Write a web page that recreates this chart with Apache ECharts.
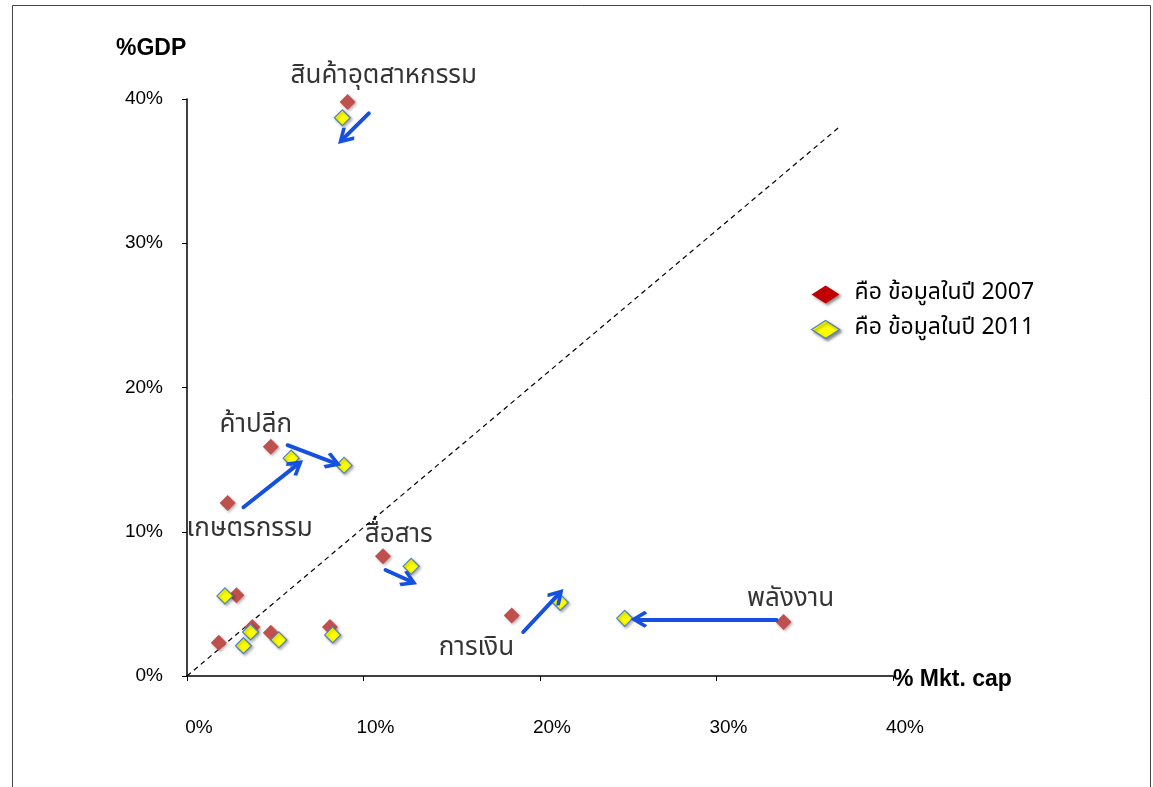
<!DOCTYPE html>
<html>
<head>
<meta charset="utf-8">
<script src="https://cdn.jsdelivr.net/npm/echarts@6/dist/echarts.min.js"></script>
<style>
html,body{margin:0;padding:0;background:#fff;}
#chart{width:1153px;height:787px;}
</style>
</head>
<body>
<div id="chart"></div>
<script>
// ---- data (percent) ----
const xTicks = [0, 10, 20, 30, 40];
const yTicks = [0, 10, 20, 30, 40];
const legend2007 = 'คือ ข้อมูลในปี 2007';
const legend2011 = 'คือ ข้อมูลในปี 2011';

// 2007 points [%Mkt cap, %GDP]
const data2007 = [
  [9.1, 39.8], [4.75, 15.9], [2.3, 12.0], [11.1, 8.3], [18.4, 4.2], [33.8, 3.75],
  [2.8, 5.6], [1.8, 2.3], [3.7, 3.4], [4.75, 3.0], [8.1, 3.4]
];
// 2011 points
const data2011 = [
  [8.8, 38.7], [5.9, 15.1], [8.9, 14.6], [12.7, 7.6], [21.15, 5.1], [24.8, 4.0],
  [2.15, 5.55], [3.2, 2.1], [3.6, 3.05], [5.2, 2.5], [8.25, 2.85]
];
// arrows [from, to]
const arrows = [
  [[10.3, 39.0], [8.9, 37.3]],
  [[5.7, 16.0], [8.3, 14.8]],
  [[3.2, 11.7], [6.2, 14.6]],
  [[11.25, 7.35], [12.6, 6.6]],
  [[19.05, 3.05], [21.0, 5.6]],
  [[33.4, 3.9], [25.6, 3.93]]
];
// diagonal reference line
const diagonal = [[0, 0], [37.0, 38.1]];
// sector labels [x, y, text]
const sectorLabels = [
  [11.15, 41.5, 'สินค้าอุตสาหกรรม'],
  [3.9, 17.3, 'ค้าปลีก'],
  [3.55, 10.1, 'เกษตรกรรม'],
  [12.0, 9.65, 'สื่อสาร'],
  [16.4, 1.8, 'การเงิน'],
  [34.2, 5.2, 'พลังงาน']
];

const chart = echarts.init(document.getElementById('chart'));
const thaiFont = "'Noto Sans Thai','Tahoma','DejaVu Sans','Noto Sans',sans-serif";
const chevron = 'path://M50,0 L100,62 L85,74 L50,30 L15,74 L0,62 Z';

const option = {
  backgroundColor: '#ffffff',
  animation: false,
  grid: { left: 187, right: 260, top: 99, bottom: 111 },
  xAxis: {
    type: 'value', min: 0, max: 40, interval: 10,
    splitLine: { show: false },
    axisLine: { onZero: false, lineStyle: { color: '#000', width: 1.5 } },
    axisTick: { show: true, length: 5, lineStyle: { color: '#000' } },
    axisLabel: { margin: 42, color: '#000', fontSize: 19, fontFamily: 'Liberation Sans, Arial, sans-serif',
      padding: [0, 0, 0, 24],
      formatter: v => xTicks.includes(v) ? v + '%' : '' }
  },
  yAxis: {
    type: 'value', min: 0, max: 40, interval: 10,
    splitLine: { show: false },
    axisLine: { onZero: false, lineStyle: { color: '#000', width: 1.5 } },
    axisTick: { show: true, length: 5, lineStyle: { color: '#000' } },
    axisLabel: { margin: 24, color: '#000', fontSize: 19, fontFamily: 'Liberation Sans, Arial, sans-serif',
      padding: [0, 0, 10, 0],
      formatter: v => yTicks.includes(v) ? v + '%' : '' }
  },
  legend: {
    orient: 'vertical', left: 806, top: 278, itemGap: 12,
    itemWidth: 28, itemHeight: 18, icon: 'diamond',
    textStyle: { fontSize: 23, color: '#000', fontFamily: thaiFont, padding: [0, 0, 0, 10] },
    data: [
      { name: legend2007, itemStyle: { color: '#c00000', borderWidth: 0, shadowBlur: 3, shadowOffsetX: 2, shadowOffsetY: 2, shadowColor: 'rgba(0,0,0,0.45)' } },
      { name: legend2011, itemStyle: { color: '#ffff00', borderColor: '#4f81bd', borderWidth: 1.2, shadowBlur: 3, shadowOffsetX: 2, shadowOffsetY: 2, shadowColor: 'rgba(0,0,0,0.45)' } }
    ]
  },
  graphic: [
    { type: 'rect', silent: true, shape: { x: 12.5, y: 5.5, width: 1138, height: 820 },
      style: { fill: 'none', stroke: '#444', lineWidth: 1 }, z: -10 },
    { type: 'text', left: 116, top: 37, style: { text: '%GDP', font: 'bold 23px Liberation Sans, Arial, sans-serif', fill: '#000' } },
    { type: 'text', left: 893, top: 668, style: { text: '% Mkt. cap', font: 'bold 23px Liberation Sans, Arial, sans-serif', fill: '#000' } }
  ],
  series: [
    {
      name: 'diag', type: 'lines', coordinateSystem: 'cartesian2d', silent: true, z: 1,
      lineStyle: { color: '#000', width: 1.2, type: [5, 4], opacity: 1 },
      data: [{ coords: diagonal }]
    },
    {
      name: legend2007, type: 'scatter', symbol: 'diamond', symbolSize: 16, z: 3,
      itemStyle: { color: '#c0504d', opacity: 1, shadowBlur: 3, shadowOffsetX: 1.5, shadowOffsetY: 1.5, shadowColor: 'rgba(0,0,0,0.3)' },
      data: data2007
    },
    {
      name: legend2011, type: 'scatter', symbol: 'diamond', symbolSize: 16, z: 4,
      itemStyle: { color: '#ffff00', borderColor: '#4f81bd', borderWidth: 1.2, opacity: 1, shadowBlur: 3, shadowOffsetX: 1.5, shadowOffsetY: 1.5, shadowColor: 'rgba(0,0,0,0.3)' },
      data: data2011
    },
    {
      name: 'arrows', type: 'lines', coordinateSystem: 'cartesian2d', silent: true, z: 5,
      symbol: ['none', chevron], symbolSize: [22, 17],
      lineStyle: { color: '#1650e0', width: 4, opacity: 1, cap: 'round' },
      data: arrows.map(a => ({ coords: a }))
    },
    {
      name: 'labels', type: 'scatter', symbolSize: 0, silent: true, clip: false, z: 6,
      label: { show: true, position: 'inside', color: '#000', fontSize: 26, fontFamily: thaiFont,
        formatter: p => p.data[2] },
      data: sectorLabels
    }
  ]
};
chart.setOption(option);
</script>
</body>
</html>
